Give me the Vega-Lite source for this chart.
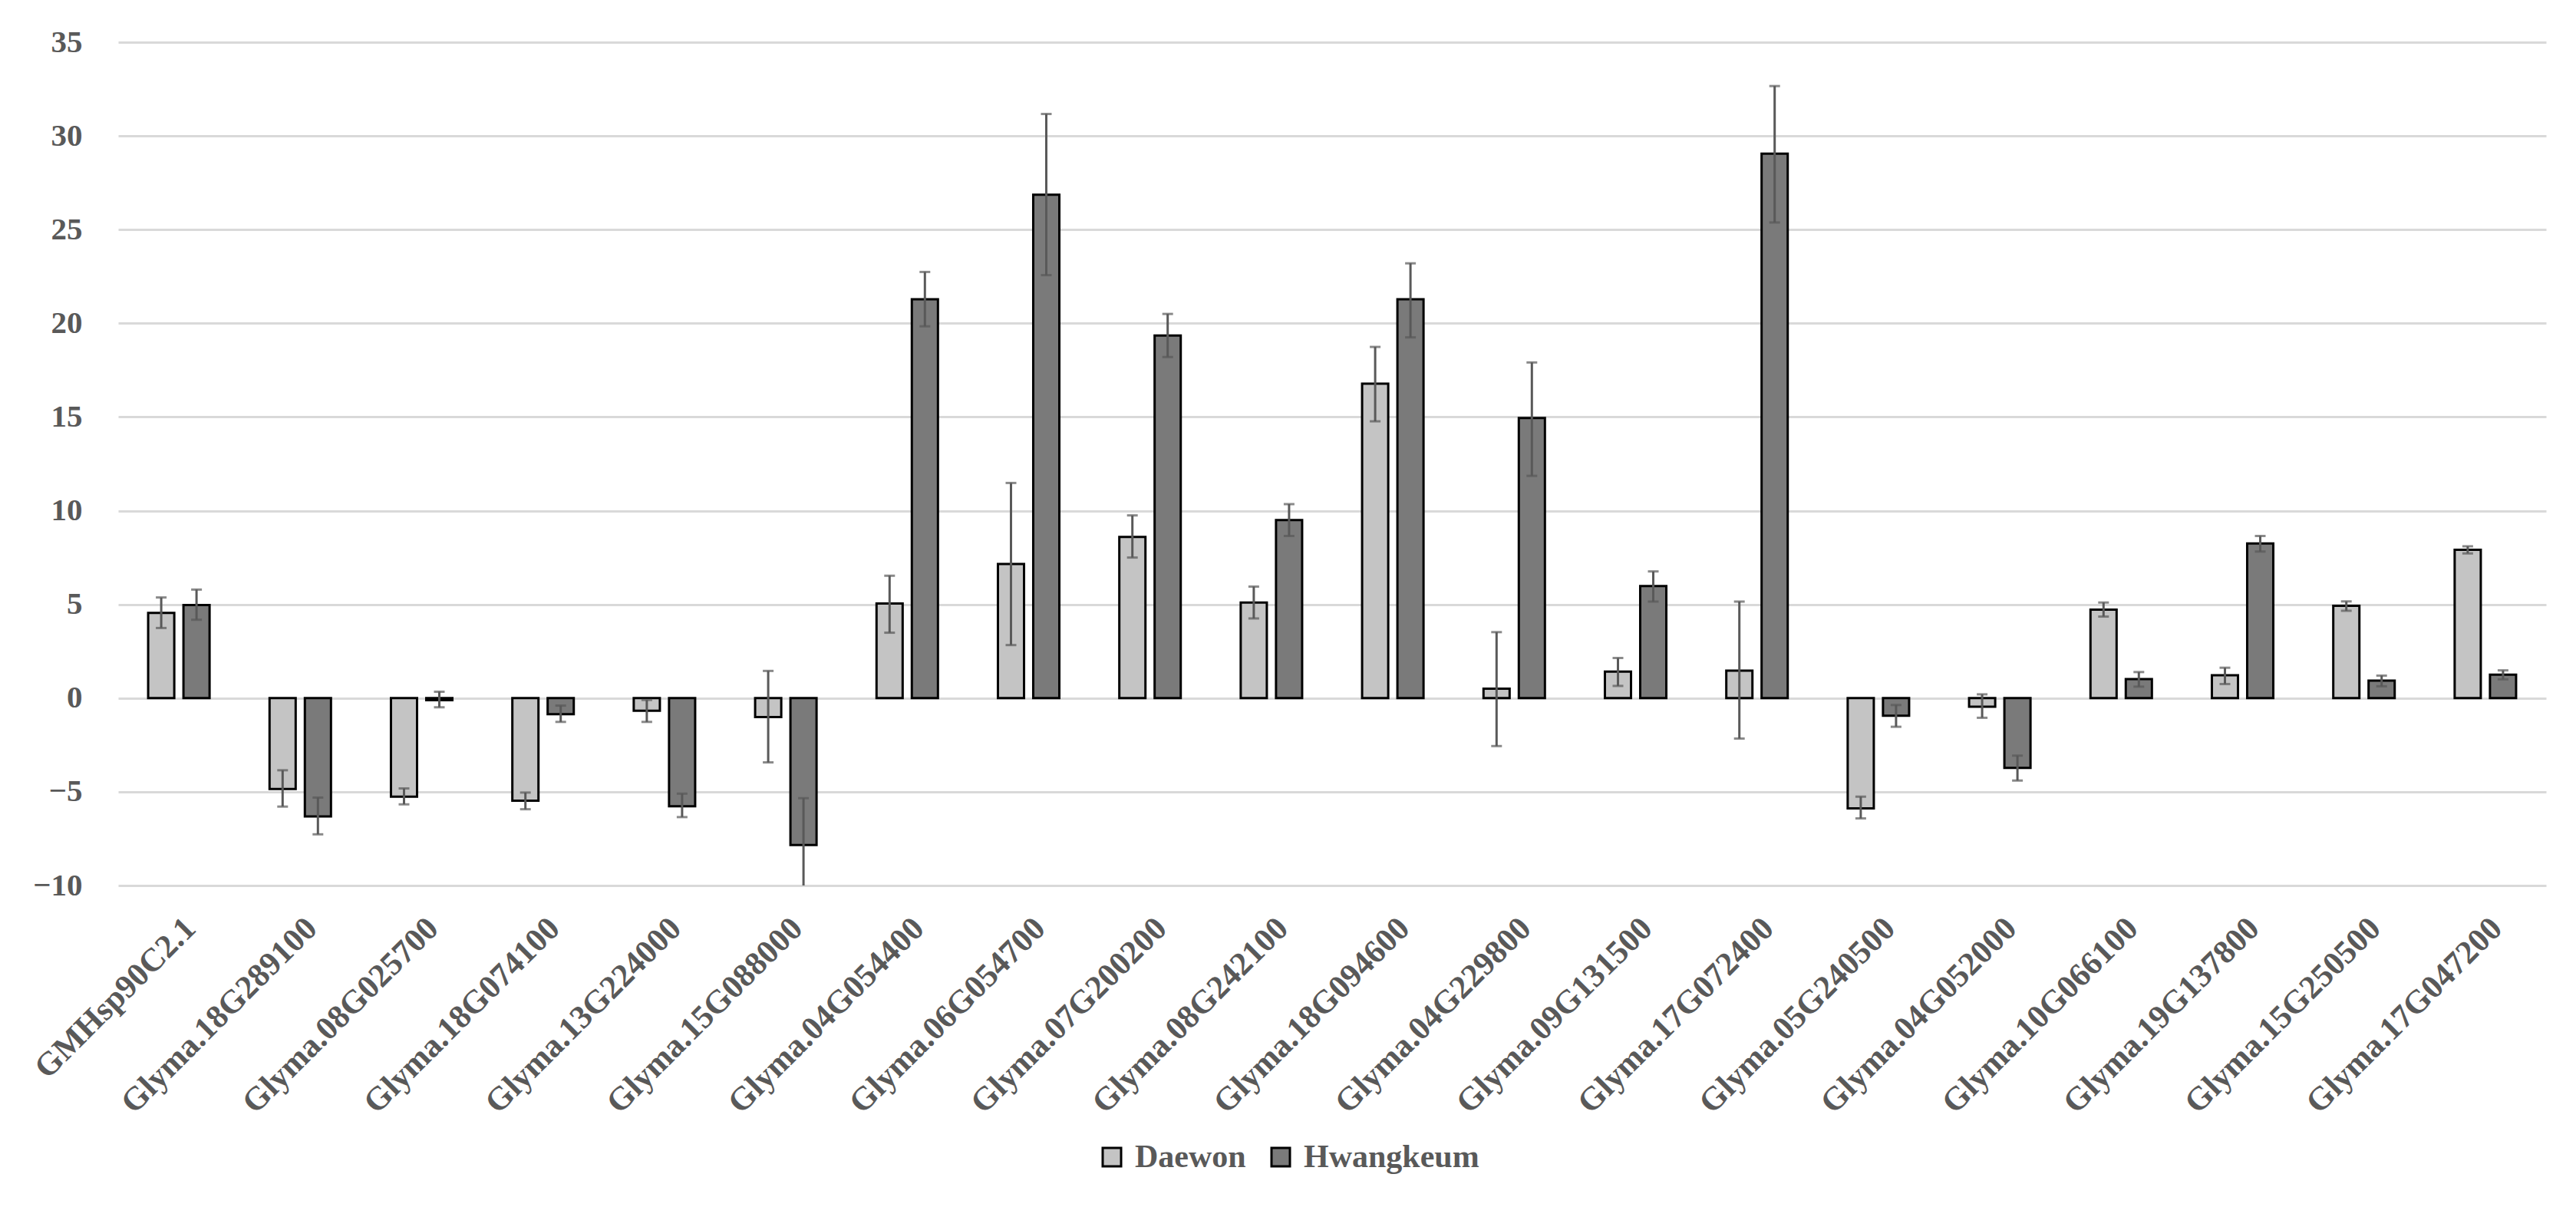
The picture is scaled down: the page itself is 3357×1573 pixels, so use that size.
{
  "$schema": "https://vega.github.io/schema/vega-lite/v6.json",
  "width": 3164,
  "height": 1099,
  "autosize": {"type": "none"},
  "padding": {"left": 154, "top": 55, "right": 39, "bottom": 419},
  "background": "white",
  "config": {"view": {"stroke": null}, "font": "Liberation Serif"},
  "data": {
    "values": [
      {"gene": "GMHsp90C2.1", "cultivar": "Daewon", "value": 4.55, "lo": 3.74, "hi": 5.37},
      {"gene": "GMHsp90C2.1", "cultivar": "Hwangkeum", "value": 4.97, "lo": 4.18, "hi": 5.79},
      {"gene": "Glyma.18G289100", "cultivar": "Daewon", "value": -4.85, "lo": -5.79, "hi": -3.85},
      {"gene": "Glyma.18G289100", "cultivar": "Hwangkeum", "value": -6.31, "lo": -7.27, "hi": -5.31},
      {"gene": "Glyma.08G025700", "cultivar": "Daewon", "value": -5.26, "lo": -5.67, "hi": -4.82},
      {"gene": "Glyma.08G025700", "cultivar": "Hwangkeum", "value": -0.11, "lo": -0.49, "hi": 0.34},
      {"gene": "Glyma.18G074100", "cultivar": "Daewon", "value": -5.48, "lo": -5.93, "hi": -5.04},
      {"gene": "Glyma.18G074100", "cultivar": "Hwangkeum", "value": -0.86, "lo": -1.27, "hi": -0.4},
      {"gene": "Glyma.13G224000", "cultivar": "Daewon", "value": -0.67, "lo": -1.27, "hi": -0.1},
      {"gene": "Glyma.13G224000", "cultivar": "Hwangkeum", "value": -5.77, "lo": -6.35, "hi": -5.1},
      {"gene": "Glyma.15G088000", "cultivar": "Daewon", "value": -1.01, "lo": -3.43, "hi": 1.45},
      {"gene": "Glyma.15G088000", "cultivar": "Hwangkeum", "value": -7.84, "lo": -10.34, "hi": -5.34},
      {"gene": "Glyma.04G054400", "cultivar": "Daewon", "value": 5.05, "lo": 3.49, "hi": 6.53},
      {"gene": "Glyma.04G054400", "cultivar": "Hwangkeum", "value": 21.28, "lo": 19.84, "hi": 22.74},
      {"gene": "Glyma.06G054700", "cultivar": "Daewon", "value": 7.16, "lo": 2.83, "hi": 11.48},
      {"gene": "Glyma.06G054700", "cultivar": "Hwangkeum", "value": 26.86, "lo": 22.57, "hi": 31.17},
      {"gene": "Glyma.07G200200", "cultivar": "Daewon", "value": 8.6, "lo": 7.5, "hi": 9.75},
      {"gene": "Glyma.07G200200", "cultivar": "Hwangkeum", "value": 19.35, "lo": 18.2, "hi": 20.5},
      {"gene": "Glyma.08G242100", "cultivar": "Daewon", "value": 5.1, "lo": 4.25, "hi": 5.95},
      {"gene": "Glyma.08G242100", "cultivar": "Hwangkeum", "value": 9.5, "lo": 8.65, "hi": 10.35},
      {"gene": "Glyma.18G094600", "cultivar": "Daewon", "value": 16.78, "lo": 14.77, "hi": 18.74},
      {"gene": "Glyma.18G094600", "cultivar": "Hwangkeum", "value": 21.28, "lo": 19.25, "hi": 23.2},
      {"gene": "Glyma.04G229800", "cultivar": "Daewon", "value": 0.5, "lo": -2.56, "hi": 3.52},
      {"gene": "Glyma.04G229800", "cultivar": "Hwangkeum", "value": 14.95, "lo": 11.86, "hi": 17.91},
      {"gene": "Glyma.09G131500", "cultivar": "Daewon", "value": 1.41, "lo": 0.65, "hi": 2.14},
      {"gene": "Glyma.09G131500", "cultivar": "Hwangkeum", "value": 5.98, "lo": 5.15, "hi": 6.76},
      {"gene": "Glyma.17G072400", "cultivar": "Daewon", "value": 1.46, "lo": -2.16, "hi": 5.15},
      {"gene": "Glyma.17G072400", "cultivar": "Hwangkeum", "value": 29.05, "lo": 25.38, "hi": 32.66},
      {"gene": "Glyma.05G240500", "cultivar": "Daewon", "value": -5.89, "lo": -6.42, "hi": -5.26},
      {"gene": "Glyma.05G240500", "cultivar": "Hwangkeum", "value": -0.94, "lo": -1.53, "hi": -0.37},
      {"gene": "Glyma.04G052000", "cultivar": "Daewon", "value": -0.46, "lo": -1.05, "hi": 0.2},
      {"gene": "Glyma.04G052000", "cultivar": "Hwangkeum", "value": -3.73, "lo": -4.4, "hi": -3.07},
      {"gene": "Glyma.10G066100", "cultivar": "Daewon", "value": 4.72, "lo": 4.35, "hi": 5.1},
      {"gene": "Glyma.10G066100", "cultivar": "Hwangkeum", "value": 1.01, "lo": 0.61, "hi": 1.39},
      {"gene": "Glyma.19G137800", "cultivar": "Daewon", "value": 1.22, "lo": 0.75, "hi": 1.62},
      {"gene": "Glyma.19G137800", "cultivar": "Hwangkeum", "value": 8.25, "lo": 7.82, "hi": 8.65},
      {"gene": "Glyma.15G250500", "cultivar": "Daewon", "value": 4.92, "lo": 4.66, "hi": 5.16},
      {"gene": "Glyma.15G250500", "cultivar": "Hwangkeum", "value": 0.93, "lo": 0.63, "hi": 1.2},
      {"gene": "Glyma.17G047200", "cultivar": "Daewon", "value": 7.91, "lo": 7.72, "hi": 8.1},
      {"gene": "Glyma.17G047200", "cultivar": "Hwangkeum", "value": 1.25, "lo": 1.0, "hi": 1.48}
    ]
  },
  "encoding": {
    "x": {
      "field": "gene",
      "type": "nominal",
      "sort": null,
      "scale": {"paddingInner": 0.494, "paddingOuter": 0.247},
      "axis": {
        "title": null,
        "labelAngle": -45,
        "labelAlign": "right",
        "labelBaseline": "top",
        "labelFont": "Liberation Serif",
        "labelFontWeight": "bold",
        "labelFontSize": 43,
        "labelColor": "#595959",
        "labelPadding": 34,
        "labelLimit": 0,
        "labelOverlap": false,
        "labelBound": false,
        "domain": false,
        "ticks": false,
        "grid": false
      }
    },
    "xOffset": {
      "field": "cultivar",
      "type": "nominal",
      "scale": {"domain": ["Daewon", "Hwangkeum"], "paddingInner": 0.26, "paddingOuter": 0}
    }
  },
  "layer": [
    {
      "mark": {"type": "bar", "stroke": "black", "strokeWidth": 3},
      "encoding": {
        "y": {
          "field": "value",
          "type": "quantitative",
          "scale": {"domain": [-10, 35], "nice": false, "zero": false},
          "axis": {
            "title": null,
            "values": [-10, -5, 0, 5, 10, 15, 20, 25, 30, 35],
            "domain": false,
            "ticks": false,
            "grid": true,
            "gridColor": "#d9d9d9",
            "gridWidth": 3,
            "labelFont": "Liberation Serif",
            "labelFontWeight": "bold",
            "labelFontSize": 41,
            "labelColor": "#595959",
            "labelPadding": 47
          }
        },
        "color": {
          "field": "cultivar",
          "type": "nominal",
          "scale": {"domain": ["Daewon", "Hwangkeum"], "range": ["#c4c4c4", "#7a7a7a"]},
          "legend": {
            "title": null,
            "orient": "none",
            "direction": "horizontal",
            "legendX": 1274,
            "legendY": 1432,
            "symbolType": "square",
            "symbolSize": 576,
            "symbolStrokeColor": "black",
            "symbolStrokeWidth": 3,
            "symbolOpacity": 1,
            "labelFont": "Liberation Serif",
            "labelFontWeight": "bold",
            "labelFontSize": 42,
            "labelColor": "#595959",
            "labelOffset": 9,
            "labelLimit": 0,
            "columnPadding": 24
          }
        }
      }
    },
    {
      "mark": {"type": "rule", "color": "#595959", "strokeWidth": 3, "clip": true},
      "encoding": {
        "y": {"field": "lo", "type": "quantitative"},
        "y2": {"field": "hi"}
      }
    },
    {
      "mark": {"type": "tick", "color": "#595959", "thickness": 3, "size": 14, "orient": "horizontal", "clip": true},
      "encoding": {"y": {"field": "lo", "type": "quantitative"}}
    },
    {
      "mark": {"type": "tick", "color": "#595959", "thickness": 3, "size": 14, "orient": "horizontal", "clip": true},
      "encoding": {"y": {"field": "hi", "type": "quantitative"}}
    }
  ]
}
